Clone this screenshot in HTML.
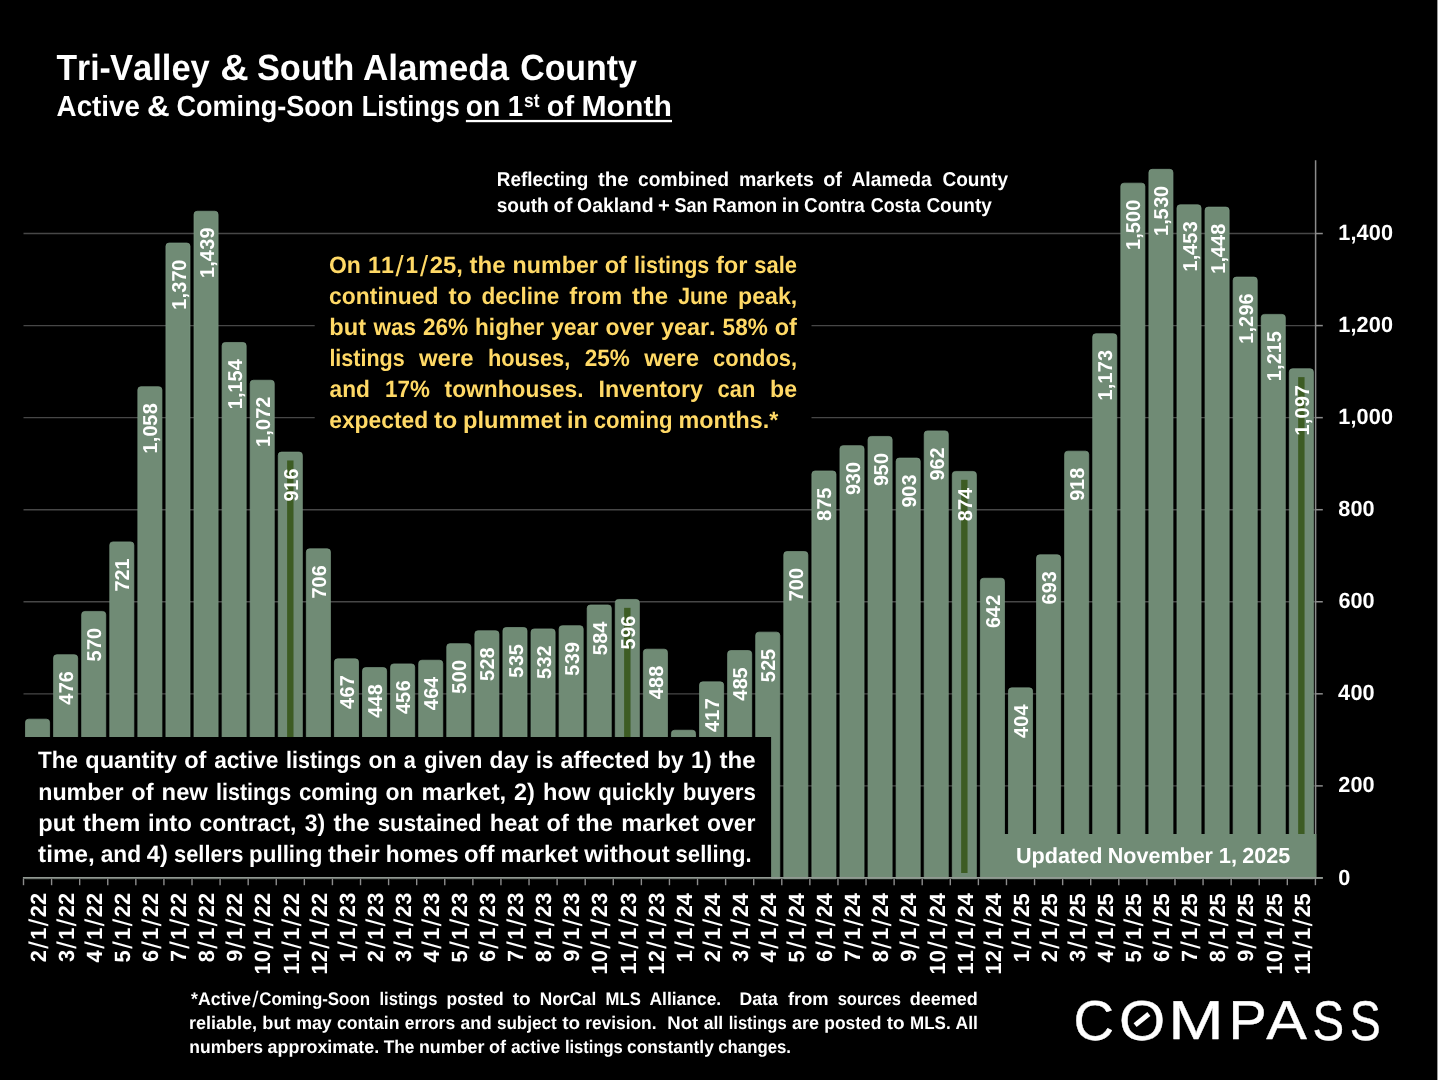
<!DOCTYPE html>
<html lang="en">
<head>
<meta charset="utf-8">
<title>Tri-Valley &amp; South Alameda County - Active &amp; Coming-Soon Listings on 1st of Month</title>
<style>
html,body{margin:0;padding:0;background:#000;overflow:hidden}
svg{display:block}
.s{font-size:27px;font-weight:normal}
text{font-family:"Liberation Sans",sans-serif;font-weight:bold;fill:#fff;white-space:pre;font-variant-ligatures:none;font-kerning:none;text-rendering:geometricPrecision}
</style>
</head>
<body>
<svg width="1440" height="1080" viewBox="0 0 1440 1080">
<rect width="1440" height="1080" fill="#000"/>
<g stroke="#474747" stroke-width="1.4">
<line x1="23.5" y1="785.89" x2="1315.4" y2="785.89"/>
<line x1="23.5" y1="693.83" x2="1315.4" y2="693.83"/>
<line x1="23.5" y1="601.77" x2="1315.4" y2="601.77"/>
<line x1="23.5" y1="509.71" x2="1315.4" y2="509.71"/>
<line x1="23.5" y1="417.65" x2="1315.4" y2="417.65"/>
<line x1="23.5" y1="325.59" x2="1315.4" y2="325.59"/>
<line x1="23.5" y1="233.53" x2="1315.4" y2="233.53"/>
</g>
<g fill="#708b75" stroke="#7b9882" stroke-width="0.7">
<path d="M25.49 878.8V722.37Q25.49 719.17 28.69 719.17H46.39Q49.59 719.17 49.59 722.37V878.8Z"/>
<path d="M53.58 878.8V657.90Q53.58 654.70 56.78 654.70H74.48Q77.68 654.70 77.68 657.90V878.8Z"/>
<path d="M81.66 878.8V614.62Q81.66 611.41 84.86 611.41H102.56Q105.76 611.41 105.76 614.62V878.8Z"/>
<path d="M109.75 878.8V545.08Q109.75 541.88 112.95 541.88H130.65Q133.85 541.88 133.85 545.08V878.8Z"/>
<path d="M137.83 878.8V389.89Q137.83 386.69 141.03 386.69H158.73Q161.93 386.69 161.93 389.89V878.8Z"/>
<path d="M165.92 878.8V246.22Q165.92 243.02 169.12 243.02H186.82Q190.02 243.02 190.02 246.22V878.8Z"/>
<path d="M194.00 878.8V214.44Q194.00 211.24 197.20 211.24H214.90Q218.10 211.24 218.10 214.44V878.8Z"/>
<path d="M222.09 878.8V345.68Q222.09 342.48 225.29 342.48H242.99Q246.19 342.48 246.19 345.68V878.8Z"/>
<path d="M250.17 878.8V383.44Q250.17 380.24 253.37 380.24H271.07Q274.27 380.24 274.27 383.44V878.8Z"/>
<path d="M278.26 878.8V455.28Q278.26 452.08 281.46 452.08H299.16Q302.36 452.08 302.36 455.28V878.8Z"/>
<path d="M306.34 878.8V551.99Q306.34 548.79 309.54 548.79H327.24Q330.44 548.79 330.44 551.99V878.8Z"/>
<path d="M334.43 878.8V662.05Q334.43 658.85 337.62 658.85H355.33Q358.53 658.85 358.53 662.05V878.8Z"/>
<path d="M362.51 878.8V670.80Q362.51 667.60 365.71 667.60H383.41Q386.61 667.60 386.61 670.80V878.8Z"/>
<path d="M390.59 878.8V667.11Q390.59 663.91 393.79 663.91H411.49Q414.69 663.91 414.69 667.11V878.8Z"/>
<path d="M418.68 878.8V663.43Q418.68 660.23 421.88 660.23H439.58Q442.78 660.23 442.78 663.43V878.8Z"/>
<path d="M446.76 878.8V646.85Q446.76 643.65 449.96 643.65H467.66Q470.86 643.65 470.86 646.85V878.8Z"/>
<path d="M474.85 878.8V633.96Q474.85 630.76 478.05 630.76H495.75Q498.95 630.76 498.95 633.96V878.8Z"/>
<path d="M502.93 878.8V630.73Q502.93 627.53 506.13 627.53H523.83Q527.03 627.53 527.03 630.73V878.8Z"/>
<path d="M531.02 878.8V632.11Q531.02 628.91 534.22 628.91H551.92Q555.12 628.91 555.12 632.11V878.8Z"/>
<path d="M559.10 878.8V628.89Q559.10 625.69 562.30 625.69H580.00Q583.20 625.69 583.20 628.89V878.8Z"/>
<path d="M587.19 878.8V608.17Q587.19 604.97 590.39 604.97H608.09Q611.29 604.97 611.29 608.17V878.8Z"/>
<path d="M615.27 878.8V602.64Q615.27 599.44 618.47 599.44H636.17Q639.37 599.44 639.37 602.64V878.8Z"/>
<path d="M643.36 878.8V652.38Q643.36 649.18 646.56 649.18H664.26Q667.46 649.18 667.46 652.38V878.8Z"/>
<path d="M671.44 878.8V733.42Q671.44 730.22 674.64 730.22H692.34Q695.54 730.22 695.54 733.42V878.8Z"/>
<path d="M699.53 878.8V685.07Q699.53 681.87 702.73 681.87H720.43Q723.63 681.87 723.63 685.07V878.8Z"/>
<path d="M727.61 878.8V653.76Q727.61 650.56 730.81 650.56H748.51Q751.71 650.56 751.71 653.76V878.8Z"/>
<path d="M755.70 878.8V635.34Q755.70 632.14 758.90 632.14H776.60Q779.80 632.14 779.80 635.34V878.8Z"/>
<path d="M783.78 878.8V554.75Q783.78 551.55 786.98 551.55H804.68Q807.88 551.55 807.88 554.75V878.8Z"/>
<path d="M811.87 878.8V474.16Q811.87 470.96 815.07 470.96H832.77Q835.97 470.96 835.97 474.16V878.8Z"/>
<path d="M839.95 878.8V448.83Q839.95 445.63 843.15 445.63H860.85Q864.05 445.63 864.05 448.83V878.8Z"/>
<path d="M868.04 878.8V439.62Q868.04 436.43 871.24 436.43H888.94Q892.14 436.43 892.14 439.62V878.8Z"/>
<path d="M896.12 878.8V461.27Q896.12 458.07 899.32 458.07H917.02Q920.22 458.07 920.22 461.27V878.8Z"/>
<path d="M924.21 878.8V434.10Q924.21 430.90 927.41 430.90H945.11Q948.31 430.90 948.31 434.10V878.8Z"/>
<path d="M952.29 878.8V474.62Q952.29 471.42 955.49 471.42H973.19Q976.39 471.42 976.39 474.62V878.8Z"/>
<path d="M980.38 878.8V581.46Q980.38 578.26 983.58 578.26H1001.28Q1004.48 578.26 1004.48 581.46V878.8Z"/>
<path d="M1008.46 878.8V691.06Q1008.46 687.86 1011.66 687.86H1029.36Q1032.56 687.86 1032.56 691.06V878.8Z"/>
<path d="M1036.54 878.8V557.97Q1036.54 554.77 1039.74 554.77H1057.44Q1060.64 554.77 1060.64 557.97V878.8Z"/>
<path d="M1064.63 878.8V454.36Q1064.63 451.16 1067.83 451.16H1085.53Q1088.73 451.16 1088.73 454.36V878.8Z"/>
<path d="M1092.71 878.8V336.93Q1092.71 333.73 1095.91 333.73H1113.61Q1116.81 333.73 1116.81 336.93V878.8Z"/>
<path d="M1120.80 878.8V186.35Q1120.80 183.15 1124.00 183.15H1141.70Q1144.90 183.15 1144.90 186.35V878.8Z"/>
<path d="M1148.88 878.8V172.53Q1148.88 169.33 1152.08 169.33H1169.78Q1172.98 169.33 1172.98 172.53V878.8Z"/>
<path d="M1176.97 878.8V207.99Q1176.97 204.79 1180.17 204.79H1197.87Q1201.07 204.79 1201.07 207.99V878.8Z"/>
<path d="M1205.05 878.8V210.30Q1205.05 207.10 1208.25 207.10H1225.95Q1229.15 207.10 1229.15 210.30V878.8Z"/>
<path d="M1233.14 878.8V280.29Q1233.14 277.09 1236.34 277.09H1254.04Q1257.24 277.09 1257.24 280.29V878.8Z"/>
<path d="M1261.22 878.8V317.59Q1261.22 314.39 1264.42 314.39H1282.12Q1285.32 314.39 1285.32 317.59V878.8Z"/>
<path d="M1289.31 878.8V371.93Q1289.31 368.73 1292.51 368.73H1310.21Q1313.41 368.73 1313.41 371.93V878.8Z"/>
</g>
<g fill="#3d5c23">
<rect x="287.11" y="460.48" width="6.4" height="412.52"/>
<rect x="624.12" y="607.84" width="6.4" height="265.16"/>
<rect x="961.14" y="479.82" width="6.4" height="393.18"/>
<rect x="1298.16" y="377.13" width="6.4" height="495.87"/>
</g>
<g font-size="20.1">
<text transform="translate(73.1 671.2) rotate(-90) scale(0.985 1)" x="-34.1 -22.4 -11.1">476</text>
<text transform="translate(101.2 627.9) rotate(-90) scale(0.985 1)" x="-34.2 -22.4 -11.2">570</text>
<text transform="translate(129.3 558.4) rotate(-90) scale(0.985 1)" x="-33.7 -22.5 -11.3">721</text>
<text transform="translate(157.4 403.2) rotate(-90) scale(0.985 1)" x="-51 -39.6 -33.9 -22.9 -11.3">1,058</text>
<text transform="translate(185.5 259.5) rotate(-90) scale(0.985 1)" x="-51 -39.6 -33.7 -22.4 -11.3">1,370</text>
<text transform="translate(213.6 227.7) rotate(-90) scale(0.985 1)" x="-51 -39.6 -34.1 -22.4 -10.9">1,439</text>
<text transform="translate(241.6 359) rotate(-90) scale(0.985 1)" x="-51 -39.6 -33.9 -22.9 -11.5">1,154</text>
<text transform="translate(269.7 396.7) rotate(-90) scale(0.985 1)" x="-51 -39.6 -33.9 -22.4 -11.2">1,072</text>
<text transform="translate(297.8 468.6) rotate(-90) scale(0.985 1)" x="-33.5 -22.6 -11.1">916</text>
<text transform="translate(325.9 565.3) rotate(-90) scale(0.985 1)" x="-33.7 -22.6 -11.1">706</text>
<text transform="translate(354 675.3) rotate(-90) scale(0.985 1)" x="-34.1 -22.5 -11.1">467</text>
<text transform="translate(382.1 684.1) rotate(-90) scale(0.985 1)" x="-34.1 -22.8 -11.3">448</text>
<text transform="translate(410.1 680.4) rotate(-90) scale(0.985 1)" x="-34.1 -22.9 -11.1">456</text>
<text transform="translate(438.2 676.7) rotate(-90) scale(0.985 1)" x="-34.1 -22.5 -11.4">464</text>
<text transform="translate(466.3 660.1) rotate(-90) scale(0.985 1)" x="-34.2 -22.6 -11.2">500</text>
<text transform="translate(494.4 647.3) rotate(-90) scale(0.985 1)" x="-34.2 -22.5 -11.3">528</text>
<text transform="translate(522.5 644) rotate(-90) scale(0.985 1)" x="-34.2 -22.4 -11.5">535</text>
<text transform="translate(550.6 645.4) rotate(-90) scale(0.985 1)" x="-34.2 -22.4 -11.2">532</text>
<text transform="translate(578.7 642.2) rotate(-90) scale(0.985 1)" x="-34.2 -22.4 -10.9">539</text>
<text transform="translate(606.7 621.5) rotate(-90) scale(0.985 1)" x="-34.2 -22.6 -11.4">584</text>
<text transform="translate(634.8 615.9) rotate(-90) scale(0.985 1)" x="-34.2 -22.2 -11.1">596</text>
<text transform="translate(662.9 665.7) rotate(-90) scale(0.985 1)" x="-34.1 -22.6 -11.3">488</text>
<text transform="translate(719.1 698.4) rotate(-90) scale(0.985 1)" x="-34.1 -22.6 -11.1">417</text>
<text transform="translate(747.2 667.1) rotate(-90) scale(0.985 1)" x="-34.1 -22.6 -11.5">485</text>
<text transform="translate(775.2 648.6) rotate(-90) scale(0.985 1)" x="-34.2 -22.5 -11.5">525</text>
<text transform="translate(803.3 568) rotate(-90) scale(0.985 1)" x="-33.7 -22.6 -11.2">700</text>
<text transform="translate(831.4 487.5) rotate(-90) scale(0.985 1)" x="-33.9 -22.4 -11.5">875</text>
<text transform="translate(859.5 462.1) rotate(-90) scale(0.985 1)" x="-33.5 -22.4 -11.2">930</text>
<text transform="translate(887.6 452.9) rotate(-90) scale(0.985 1)" x="-33.5 -22.9 -11.2">950</text>
<text transform="translate(915.7 474.6) rotate(-90) scale(0.985 1)" x="-33.5 -22.6 -11">903</text>
<text transform="translate(943.8 447.4) rotate(-90) scale(0.985 1)" x="-33.5 -22.5 -11.2">962</text>
<text transform="translate(971.8 487.9) rotate(-90) scale(0.985 1)" x="-33.9 -22.4 -11.4">874</text>
<text transform="translate(999.9 594.8) rotate(-90) scale(0.985 1)" x="-33.8 -22.8 -11.2">642</text>
<text transform="translate(1028 704.4) rotate(-90) scale(0.985 1)" x="-34.1 -22.6 -11.4">404</text>
<text transform="translate(1056.1 571.3) rotate(-90) scale(0.985 1)" x="-33.8 -22.2 -11">693</text>
<text transform="translate(1084.2 467.7) rotate(-90) scale(0.985 1)" x="-33.5 -22.6 -11.3">918</text>
<text transform="translate(1112.3 350.2) rotate(-90) scale(0.985 1)" x="-51 -39.6 -33.9 -22.4 -11">1,173</text>
<text transform="translate(1140.3 199.7) rotate(-90) scale(0.985 1)" x="-51 -39.6 -34.2 -22.6 -11.3">1,500</text>
<text transform="translate(1168.4 185.8) rotate(-90) scale(0.985 1)" x="-51 -39.6 -34.2 -22.4 -11.3">1,530</text>
<text transform="translate(1196.5 221.3) rotate(-90) scale(0.985 1)" x="-51 -39.6 -34.1 -22.9 -11">1,453</text>
<text transform="translate(1224.6 223.6) rotate(-90) scale(0.985 1)" x="-51 -39.6 -34.1 -22.8 -11.3">1,448</text>
<text transform="translate(1252.7 293.6) rotate(-90) scale(0.985 1)" x="-51 -39.6 -33.9 -22.2 -11.2">1,296</text>
<text transform="translate(1280.8 330.9) rotate(-90) scale(0.985 1)" x="-51 -39.6 -33.9 -22.6 -11.6">1,215</text>
<text transform="translate(1308.9 385.2) rotate(-90) scale(0.985 1)" x="-51 -39.6 -33.9 -22.2 -11.1">1,097</text>
</g>
<g stroke="#8c8c8c" stroke-width="1.5" fill="none">
<line x1="1315.6000000000001" y1="160.2" x2="1315.6000000000001" y2="877.95"/>
<line x1="1315.4" y1="877.95" x2="1322.80" y2="877.95"/>
<line x1="1315.4" y1="785.89" x2="1322.80" y2="785.89"/>
<line x1="1315.4" y1="693.83" x2="1322.80" y2="693.83"/>
<line x1="1315.4" y1="601.77" x2="1322.80" y2="601.77"/>
<line x1="1315.4" y1="509.71" x2="1322.80" y2="509.71"/>
<line x1="1315.4" y1="417.65" x2="1322.80" y2="417.65"/>
<line x1="1315.4" y1="325.59" x2="1322.80" y2="325.59"/>
<line x1="1315.4" y1="233.53" x2="1322.80" y2="233.53"/>
</g>
<rect x="21" y="737" width="750.1" height="142.2" fill="#000"/>
<rect x="314.7" y="240" width="496.8" height="205" fill="#000"/>
<rect x="1003" y="834" width="313.3" height="44.9" fill="#708b75"/>
<line x1="22.9" y1="877.95" x2="1322.8000000000002" y2="877.95" stroke="#929a93" stroke-width="1.7"/>
<g stroke="#8c8c8c" stroke-width="1.4" fill="none">
<line x1="23.50" y1="878.75" x2="23.50" y2="885.2"/>
<line x1="51.58" y1="878.75" x2="51.58" y2="885.2"/>
<line x1="79.67" y1="878.75" x2="79.67" y2="885.2"/>
<line x1="107.75" y1="878.75" x2="107.75" y2="885.2"/>
<line x1="135.84" y1="878.75" x2="135.84" y2="885.2"/>
<line x1="163.92" y1="878.75" x2="163.92" y2="885.2"/>
<line x1="192.01" y1="878.75" x2="192.01" y2="885.2"/>
<line x1="220.09" y1="878.75" x2="220.09" y2="885.2"/>
<line x1="248.18" y1="878.75" x2="248.18" y2="885.2"/>
<line x1="276.26" y1="878.75" x2="276.26" y2="885.2"/>
<line x1="304.35" y1="878.75" x2="304.35" y2="885.2"/>
<line x1="332.43" y1="878.75" x2="332.43" y2="885.2"/>
<line x1="360.52" y1="878.75" x2="360.52" y2="885.2"/>
<line x1="388.60" y1="878.75" x2="388.60" y2="885.2"/>
<line x1="416.69" y1="878.75" x2="416.69" y2="885.2"/>
<line x1="444.77" y1="878.75" x2="444.77" y2="885.2"/>
<line x1="472.86" y1="878.75" x2="472.86" y2="885.2"/>
<line x1="500.94" y1="878.75" x2="500.94" y2="885.2"/>
<line x1="529.03" y1="878.75" x2="529.03" y2="885.2"/>
<line x1="557.11" y1="878.75" x2="557.11" y2="885.2"/>
<line x1="585.20" y1="878.75" x2="585.20" y2="885.2"/>
<line x1="613.28" y1="878.75" x2="613.28" y2="885.2"/>
<line x1="641.37" y1="878.75" x2="641.37" y2="885.2"/>
<line x1="669.45" y1="878.75" x2="669.45" y2="885.2"/>
<line x1="697.53" y1="878.75" x2="697.53" y2="885.2"/>
<line x1="725.62" y1="878.75" x2="725.62" y2="885.2"/>
<line x1="753.70" y1="878.75" x2="753.70" y2="885.2"/>
<line x1="781.79" y1="878.75" x2="781.79" y2="885.2"/>
<line x1="809.87" y1="878.75" x2="809.87" y2="885.2"/>
<line x1="837.96" y1="878.75" x2="837.96" y2="885.2"/>
<line x1="866.04" y1="878.75" x2="866.04" y2="885.2"/>
<line x1="894.13" y1="878.75" x2="894.13" y2="885.2"/>
<line x1="922.21" y1="878.75" x2="922.21" y2="885.2"/>
<line x1="950.30" y1="878.75" x2="950.30" y2="885.2"/>
<line x1="978.38" y1="878.75" x2="978.38" y2="885.2"/>
<line x1="1006.47" y1="878.75" x2="1006.47" y2="885.2"/>
<line x1="1034.55" y1="878.75" x2="1034.55" y2="885.2"/>
<line x1="1062.64" y1="878.75" x2="1062.64" y2="885.2"/>
<line x1="1090.72" y1="878.75" x2="1090.72" y2="885.2"/>
<line x1="1118.81" y1="878.75" x2="1118.81" y2="885.2"/>
<line x1="1146.89" y1="878.75" x2="1146.89" y2="885.2"/>
<line x1="1174.98" y1="878.75" x2="1174.98" y2="885.2"/>
<line x1="1203.06" y1="878.75" x2="1203.06" y2="885.2"/>
<line x1="1231.15" y1="878.75" x2="1231.15" y2="885.2"/>
<line x1="1259.23" y1="878.75" x2="1259.23" y2="885.2"/>
<line x1="1287.32" y1="878.75" x2="1287.32" y2="885.2"/>
<line x1="1315.40" y1="878.75" x2="1315.40" y2="885.2"/>
</g>
<rect x="465.9" y="119.9" width="206.1" height="2.3" fill="#fff"/>
<rect x="1437.4" y="0" width="2.6" height="1080" fill="#fff"/>
<text font-size="36.4"><tspan x="56.5" y="80" textLength="54.2" lengthAdjust="spacingAndGlyphs">Tri-</tspan><tspan x="110.1" y="80" textLength="99.7" lengthAdjust="spacingAndGlyphs">Valley</tspan> <tspan x="220.2" y="80" textLength="28.4" lengthAdjust="spacingAndGlyphs">&amp;</tspan> <tspan x="256.9" y="80" textLength="97.5" lengthAdjust="spacingAndGlyphs">South</tspan> <tspan x="362.9" y="80" textLength="146.2" lengthAdjust="spacingAndGlyphs">Alameda</tspan> <tspan x="520.2" y="80" textLength="116.7" lengthAdjust="spacingAndGlyphs">County</tspan></text>
<text font-size="29.1"><tspan x="56.6" y="116" textLength="83.3" lengthAdjust="spacingAndGlyphs">Active</tspan> <tspan x="147.1" y="116" textLength="22.7" lengthAdjust="spacingAndGlyphs">&amp;</tspan> <tspan x="176.5" y="116" textLength="177.3" lengthAdjust="spacingAndGlyphs">Coming-Soon</tspan> <tspan x="361.7" y="116" textLength="98.1" lengthAdjust="spacingAndGlyphs">Listings</tspan> <tspan x="465.8" y="116" textLength="34.6" lengthAdjust="spacingAndGlyphs">on</tspan> <tspan x="507.8" y="116" textLength="15.4" lengthAdjust="spacingAndGlyphs">1</tspan><tspan x="524" y="107" font-size="19.1" textLength="15.4" lengthAdjust="spacingAndGlyphs">st</tspan> <tspan x="546.8" y="116" textLength="27.3" lengthAdjust="spacingAndGlyphs">of</tspan> <tspan x="581.5" y="116" textLength="90.4" lengthAdjust="spacingAndGlyphs">Month</tspan></text>
<text y="186" font-size="20"><tspan x="496.8" textLength="91.4" lengthAdjust="spacingAndGlyphs">Reflecting</tspan> <tspan x="597.9" textLength="30.6" lengthAdjust="spacingAndGlyphs">the</tspan> <tspan x="638.1" textLength="90.9" lengthAdjust="spacingAndGlyphs">combined</tspan> <tspan x="739" textLength="74.8" lengthAdjust="spacingAndGlyphs">markets</tspan> <tspan x="823.2" textLength="18.8" lengthAdjust="spacingAndGlyphs">of</tspan> <tspan x="851.4" textLength="80.4" lengthAdjust="spacingAndGlyphs">Alameda</tspan> <tspan x="942.5" textLength="65.5" lengthAdjust="spacingAndGlyphs">County</tspan></text>
<text y="212" font-size="20"><tspan x="496.7" textLength="52" lengthAdjust="spacingAndGlyphs">south</tspan> <tspan x="553.5" textLength="18.8" lengthAdjust="spacingAndGlyphs">of</tspan> <tspan x="577.1" textLength="76.4" lengthAdjust="spacingAndGlyphs">Oakland</tspan> <tspan x="658.1" textLength="11.8" lengthAdjust="spacingAndGlyphs">+</tspan> <tspan x="674.4" textLength="33.2" lengthAdjust="spacingAndGlyphs">San</tspan> <tspan x="712.5" textLength="64.8" lengthAdjust="spacingAndGlyphs">Ramon</tspan> <tspan x="781.8" textLength="17.7" lengthAdjust="spacingAndGlyphs">in</tspan> <tspan x="804.1" textLength="60.7" lengthAdjust="spacingAndGlyphs">Contra</tspan> <tspan x="870.7" textLength="49.8" lengthAdjust="spacingAndGlyphs">Costa</tspan> <tspan x="926.4" textLength="65.4" lengthAdjust="spacingAndGlyphs">County</tspan></text>
<text y="273" font-size="23.7" style="fill:#ffd966"><tspan x="329" y="273" textLength="31.9" lengthAdjust="spacingAndGlyphs">On</tspan> <tspan x="368" y="273" textLength="25.8" lengthAdjust="spacingAndGlyphs">11</tspan><tspan x="395.6" y="275.6" font-size="29.1" style="font-weight:normal" textLength="8.1" lengthAdjust="spacingAndGlyphs">/</tspan><tspan x="405.6" y="273" textLength="12.5" lengthAdjust="spacingAndGlyphs">1</tspan><tspan x="420" y="275.6" font-size="29.1" style="font-weight:normal" textLength="8.1" lengthAdjust="spacingAndGlyphs">/</tspan><tspan x="429.7" y="273" textLength="33.2" lengthAdjust="spacingAndGlyphs">25,</tspan> <tspan x="469.5" y="273" textLength="36.1" lengthAdjust="spacingAndGlyphs">the</tspan> <tspan x="512.6" y="273" textLength="85.3" lengthAdjust="spacingAndGlyphs">number</tspan> <tspan x="604.7" y="273" textLength="22.2" lengthAdjust="spacingAndGlyphs">of</tspan> <tspan x="634" y="273" textLength="75.3" lengthAdjust="spacingAndGlyphs">listings</tspan> <tspan x="715.9" y="273" textLength="31.6" lengthAdjust="spacingAndGlyphs">for</tspan> <tspan x="754.3" y="273" textLength="42.8" lengthAdjust="spacingAndGlyphs">sale</tspan></text>
<text y="304" font-size="23.7" style="fill:#ffd966"><tspan x="329.1" textLength="109.3" lengthAdjust="spacingAndGlyphs">continued</tspan> <tspan x="448.5" textLength="23.2" lengthAdjust="spacingAndGlyphs">to</tspan> <tspan x="481.5" textLength="77.8" lengthAdjust="spacingAndGlyphs">decline</tspan> <tspan x="569.3" textLength="52.8" lengthAdjust="spacingAndGlyphs">from</tspan> <tspan x="632.1" textLength="36.1" lengthAdjust="spacingAndGlyphs">the</tspan> <tspan x="678.2" textLength="49.7" lengthAdjust="spacingAndGlyphs">June</tspan> <tspan x="738.1" textLength="59.1" lengthAdjust="spacingAndGlyphs">peak,</tspan></text>
<text y="335" font-size="23.7" style="fill:#ffd966"><tspan x="329.3" textLength="36.8" lengthAdjust="spacingAndGlyphs">but</tspan> <tspan x="373.4" textLength="42.7" lengthAdjust="spacingAndGlyphs">was</tspan> <tspan x="422.9" textLength="45.2" lengthAdjust="spacingAndGlyphs">26%</tspan> <tspan x="475.1" textLength="68.9" lengthAdjust="spacingAndGlyphs">higher</tspan> <tspan x="550.9" textLength="47.6" lengthAdjust="spacingAndGlyphs">year</tspan> <tspan x="605.4" textLength="48.7" lengthAdjust="spacingAndGlyphs">over</tspan> <tspan x="661" textLength="54.6" lengthAdjust="spacingAndGlyphs">year.</tspan> <tspan x="722.6" textLength="45.2" lengthAdjust="spacingAndGlyphs">58%</tspan> <tspan x="774.7" textLength="22.2" lengthAdjust="spacingAndGlyphs">of</tspan></text>
<text y="366" font-size="23.7" style="fill:#ffd966"><tspan x="329.4" textLength="75.3" lengthAdjust="spacingAndGlyphs">listings</tspan> <tspan x="418.9" textLength="54.7" lengthAdjust="spacingAndGlyphs">were</tspan> <tspan x="487.9" textLength="82.4" lengthAdjust="spacingAndGlyphs">houses,</tspan> <tspan x="584.7" textLength="45.2" lengthAdjust="spacingAndGlyphs">25%</tspan> <tspan x="644.3" textLength="54.7" lengthAdjust="spacingAndGlyphs">were</tspan> <tspan x="713.1" textLength="84" lengthAdjust="spacingAndGlyphs">condos,</tspan></text>
<text y="397" font-size="23.7" style="fill:#ffd966"><tspan x="329.6" textLength="40.4" lengthAdjust="spacingAndGlyphs">and</tspan> <tspan x="385" textLength="44.9" lengthAdjust="spacingAndGlyphs">17%</tspan> <tspan x="444.6" textLength="139" lengthAdjust="spacingAndGlyphs">townhouses.</tspan> <tspan x="598.5" textLength="104.5" lengthAdjust="spacingAndGlyphs">Inventory</tspan> <tspan x="717.6" textLength="37.8" lengthAdjust="spacingAndGlyphs">can</tspan> <tspan x="770.1" textLength="27" lengthAdjust="spacingAndGlyphs">be</tspan></text>
<text y="428" font-size="23.7" style="fill:#ffd966"><tspan x="329.2" textLength="99" lengthAdjust="spacingAndGlyphs">expected</tspan> <tspan x="434.1" textLength="23.2" lengthAdjust="spacingAndGlyphs">to</tspan> <tspan x="463" textLength="98.6" lengthAdjust="spacingAndGlyphs">plummet</tspan> <tspan x="567.1" textLength="20.9" lengthAdjust="spacingAndGlyphs">in</tspan> <tspan x="593.7" textLength="78.9" lengthAdjust="spacingAndGlyphs">coming</tspan> <tspan x="678.5" textLength="99.8" lengthAdjust="spacingAndGlyphs">months.*</tspan></text>
<text y="768" font-size="23.7"><tspan x="38.1" textLength="39.9" lengthAdjust="spacingAndGlyphs">The</tspan> <tspan x="85.3" textLength="91.6" lengthAdjust="spacingAndGlyphs">quantity</tspan> <tspan x="184.2" textLength="22.2" lengthAdjust="spacingAndGlyphs">of</tspan> <tspan x="214.2" textLength="64.2" lengthAdjust="spacingAndGlyphs">active</tspan> <tspan x="286" textLength="75.3" lengthAdjust="spacingAndGlyphs">listings</tspan> <tspan x="368.4" textLength="28.1" lengthAdjust="spacingAndGlyphs">on</tspan> <tspan x="403.7" textLength="12.1" lengthAdjust="spacingAndGlyphs">a</tspan> <tspan x="424.1" textLength="58.2" lengthAdjust="spacingAndGlyphs">given</tspan> <tspan x="489.5" textLength="39.2" lengthAdjust="spacingAndGlyphs">day</tspan> <tspan x="535.9" textLength="17.3" lengthAdjust="spacingAndGlyphs">is</tspan> <tspan x="560.6" textLength="89" lengthAdjust="spacingAndGlyphs">affected</tspan> <tspan x="657.2" textLength="26.2" lengthAdjust="spacingAndGlyphs">by</tspan> <tspan x="691.1" textLength="20.6" lengthAdjust="spacingAndGlyphs">1)</tspan> <tspan x="719.5" textLength="36.1" lengthAdjust="spacingAndGlyphs">the</tspan></text>
<text y="800" font-size="23.7"><tspan x="38.2" textLength="85.3" lengthAdjust="spacingAndGlyphs">number</tspan> <tspan x="131.3" textLength="22.2" lengthAdjust="spacingAndGlyphs">of</tspan> <tspan x="161.6" textLength="46.3" lengthAdjust="spacingAndGlyphs">new</tspan> <tspan x="216" textLength="75.3" lengthAdjust="spacingAndGlyphs">listings</tspan> <tspan x="298.9" textLength="78.9" lengthAdjust="spacingAndGlyphs">coming</tspan> <tspan x="385.5" textLength="28.1" lengthAdjust="spacingAndGlyphs">on</tspan> <tspan x="421.6" textLength="84.6" lengthAdjust="spacingAndGlyphs">market,</tspan> <tspan x="514" textLength="20.8" lengthAdjust="spacingAndGlyphs">2)</tspan> <tspan x="543.1" textLength="47.2" lengthAdjust="spacingAndGlyphs">how</tspan> <tspan x="598.3" textLength="76.4" lengthAdjust="spacingAndGlyphs">quickly</tspan> <tspan x="682.8" textLength="73.1" lengthAdjust="spacingAndGlyphs">buyers</tspan></text>
<text y="831" font-size="23.7"><tspan x="38.2" textLength="36.8" lengthAdjust="spacingAndGlyphs">put</tspan> <tspan x="83.1" textLength="57.3" lengthAdjust="spacingAndGlyphs">them</tspan> <tspan x="147.9" textLength="44" lengthAdjust="spacingAndGlyphs">into</tspan> <tspan x="199.6" textLength="96.8" lengthAdjust="spacingAndGlyphs">contract,</tspan> <tspan x="304.8" textLength="20.4" lengthAdjust="spacingAndGlyphs">3)</tspan> <tspan x="333.6" textLength="36.1" lengthAdjust="spacingAndGlyphs">the</tspan> <tspan x="377.7" textLength="104" lengthAdjust="spacingAndGlyphs">sustained</tspan> <tspan x="489.7" textLength="48.9" lengthAdjust="spacingAndGlyphs">heat</tspan> <tspan x="546.6" textLength="22.2" lengthAdjust="spacingAndGlyphs">of</tspan> <tspan x="576.9" textLength="36.1" lengthAdjust="spacingAndGlyphs">the</tspan> <tspan x="621.2" textLength="77.7" lengthAdjust="spacingAndGlyphs">market</tspan> <tspan x="706.9" textLength="48.7" lengthAdjust="spacingAndGlyphs">over</tspan></text>
<text y="862" font-size="23.7"><tspan x="38.1" textLength="56.6" lengthAdjust="spacingAndGlyphs">time,</tspan> <tspan x="100.7" textLength="40.4" lengthAdjust="spacingAndGlyphs">and</tspan> <tspan x="146.8" textLength="21" lengthAdjust="spacingAndGlyphs">4)</tspan> <tspan x="174" textLength="69.3" lengthAdjust="spacingAndGlyphs">sellers</tspan> <tspan x="249.1" textLength="73.3" lengthAdjust="spacingAndGlyphs">pulling</tspan> <tspan x="328.1" textLength="51.7" lengthAdjust="spacingAndGlyphs">their</tspan> <tspan x="385.8" textLength="72.8" lengthAdjust="spacingAndGlyphs">homes</tspan> <tspan x="464" textLength="30.4" lengthAdjust="spacingAndGlyphs">off</tspan> <tspan x="500.5" textLength="77.6" lengthAdjust="spacingAndGlyphs">market</tspan> <tspan x="584.3" textLength="85.4" lengthAdjust="spacingAndGlyphs">without</tspan> <tspan x="675.6" textLength="76" lengthAdjust="spacingAndGlyphs">selling.</tspan></text>
<text y="1005" font-size="18.2"><tspan x="191" y="1005" textLength="60" lengthAdjust="spacingAndGlyphs">*Active</tspan><tspan x="252.2" y="1007" font-size="22.4" style="font-weight:normal" textLength="6.2" lengthAdjust="spacingAndGlyphs">/</tspan><tspan x="259.3" y="1005" textLength="110.8" lengthAdjust="spacingAndGlyphs">Coming-Soon</tspan> <tspan x="379.5" y="1005" textLength="57.9" lengthAdjust="spacingAndGlyphs">listings</tspan> <tspan x="446.5" y="1005" textLength="57.1" lengthAdjust="spacingAndGlyphs">posted</tspan> <tspan x="512.8" y="1005" textLength="17.9" lengthAdjust="spacingAndGlyphs">to</tspan> <tspan x="539.8" y="1005" textLength="56.4" lengthAdjust="spacingAndGlyphs">NorCal</tspan> <tspan x="605.6" y="1005" textLength="35.2" lengthAdjust="spacingAndGlyphs">MLS</tspan> <tspan x="649.5" y="1005" textLength="71.7" lengthAdjust="spacingAndGlyphs">Alliance.</tspan>  <tspan x="739.6" y="1005" textLength="38.2" lengthAdjust="spacingAndGlyphs">Data</tspan> <tspan x="788" y="1005" textLength="40.6" lengthAdjust="spacingAndGlyphs">from</tspan> <tspan x="837.7" y="1005" textLength="63.2" lengthAdjust="spacingAndGlyphs">sources</tspan> <tspan x="909.8" y="1005" textLength="68" lengthAdjust="spacingAndGlyphs">deemed</tspan></text>
<text y="1029" font-size="18.2"><tspan x="189.1" textLength="68" lengthAdjust="spacingAndGlyphs">reliable,</tspan> <tspan x="262.3" textLength="28.3" lengthAdjust="spacingAndGlyphs">but</tspan> <tspan x="296.2" textLength="35.5" lengthAdjust="spacingAndGlyphs">may</tspan> <tspan x="336.9" textLength="62.5" lengthAdjust="spacingAndGlyphs">contain</tspan> <tspan x="404.7" textLength="50.4" lengthAdjust="spacingAndGlyphs">errors</tspan> <tspan x="460.5" textLength="31.1" lengthAdjust="spacingAndGlyphs">and</tspan> <tspan x="496.9" textLength="59.9" lengthAdjust="spacingAndGlyphs">subject</tspan> <tspan x="562.2" textLength="17.9" lengthAdjust="spacingAndGlyphs">to</tspan> <tspan x="585.2" textLength="71.3" lengthAdjust="spacingAndGlyphs">revision.</tspan>  <tspan x="667.3" textLength="30.9" lengthAdjust="spacingAndGlyphs">Not</tspan> <tspan x="703.7" textLength="19.5" lengthAdjust="spacingAndGlyphs">all</tspan> <tspan x="728.7" textLength="57.9" lengthAdjust="spacingAndGlyphs">listings</tspan> <tspan x="792" textLength="26.9" lengthAdjust="spacingAndGlyphs">are</tspan> <tspan x="824.3" textLength="57.1" lengthAdjust="spacingAndGlyphs">posted</tspan> <tspan x="886.8" textLength="17.9" lengthAdjust="spacingAndGlyphs">to</tspan> <tspan x="910.1" textLength="40.5" lengthAdjust="spacingAndGlyphs">MLS.</tspan> <tspan x="955.6" textLength="22.4" lengthAdjust="spacingAndGlyphs">All</tspan></text>
<text y="1053" font-size="18.2"><tspan x="189.3" textLength="73.8" lengthAdjust="spacingAndGlyphs">numbers</tspan> <tspan x="267.6" textLength="111.6" lengthAdjust="spacingAndGlyphs">approximate.</tspan> <tspan x="383.7" textLength="30.7" lengthAdjust="spacingAndGlyphs">The</tspan> <tspan x="418.9" textLength="65.6" lengthAdjust="spacingAndGlyphs">number</tspan> <tspan x="489" textLength="17.1" lengthAdjust="spacingAndGlyphs">of</tspan> <tspan x="510.9" textLength="49.4" lengthAdjust="spacingAndGlyphs">active</tspan> <tspan x="564.9" textLength="57.9" lengthAdjust="spacingAndGlyphs">listings</tspan> <tspan x="627" textLength="86.8" lengthAdjust="spacingAndGlyphs">constantly</tspan> <tspan x="718.3" textLength="72.7" lengthAdjust="spacingAndGlyphs">changes.</tspan></text>
<text y="863" font-size="21.8"><tspan x="1015.9" textLength="86.5" lengthAdjust="spacingAndGlyphs">Updated</tspan> <tspan x="1107.8" textLength="105.2" lengthAdjust="spacingAndGlyphs">November</tspan> <tspan x="1218.7" textLength="18.3" lengthAdjust="spacingAndGlyphs">1,</tspan> <tspan x="1242.3" textLength="48" lengthAdjust="spacingAndGlyphs">2025</tspan></text>
<g font-size="22">
<text transform="translate(1338.2 884.5) scale(0.985 1)" x="0.1">0</text>
<text transform="translate(1338.2 792.4) scale(0.985 1)" x="0.1 12.4 24.8">200</text>
<text transform="translate(1338.2 700.3) scale(0.985 1)" x="-0.1 12.4 24.8">400</text>
<text transform="translate(1338.2 608.3) scale(0.985 1)" x="0.2 12.4 24.8">600</text>
<text transform="translate(1338.2 516.2) scale(0.985 1)" x="0.1 12.4 24.8">800</text>
<text transform="translate(1338.2 424.2) scale(0.985 1)" x="0 12.5 18.7 31.1 43.4">1,000</text>
<text transform="translate(1338.2 332.1) scale(0.985 1)" x="0 12.5 18.7 31.1 43.4">1,200</text>
<text transform="translate(1338.2 240) scale(0.985 1)" x="0 12.5 18.5 31.1 43.4">1,400</text>
</g>
<g font-size="22">
<text transform="translate(45.7 893) rotate(-90) scale(0.985 1)" x="-70.2 -56.5 -47.5 -33.7 -24.6 -12.2" y="0 2.4 0 2.4 0 0">2<tspan class="s">/</tspan>1<tspan class="s">/</tspan>22</text>
<text transform="translate(73.8 893) rotate(-90) scale(0.985 1)" x="-70 -56.5 -47.5 -33.7 -24.6 -12.2" y="0 2.4 0 2.4 0 0">3<tspan class="s">/</tspan>1<tspan class="s">/</tspan>22</text>
<text transform="translate(101.9 893) rotate(-90) scale(0.985 1)" x="-70.5 -56.5 -47.5 -33.7 -24.6 -12.2" y="0 2.4 0 2.4 0 0">4<tspan class="s">/</tspan>1<tspan class="s">/</tspan>22</text>
<text transform="translate(130 893) rotate(-90) scale(0.985 1)" x="-70.6 -56.5 -47.5 -33.7 -24.6 -12.2" y="0 2.4 0 2.4 0 0">5<tspan class="s">/</tspan>1<tspan class="s">/</tspan>22</text>
<text transform="translate(158.1 893) rotate(-90) scale(0.985 1)" x="-70.1 -56.5 -47.5 -33.7 -24.6 -12.2" y="0 2.4 0 2.4 0 0">6<tspan class="s">/</tspan>1<tspan class="s">/</tspan>22</text>
<text transform="translate(186.2 893) rotate(-90) scale(0.985 1)" x="-70.1 -56.5 -47.5 -33.7 -24.6 -12.2" y="0 2.4 0 2.4 0 0">7<tspan class="s">/</tspan>1<tspan class="s">/</tspan>22</text>
<text transform="translate(214.3 893) rotate(-90) scale(0.985 1)" x="-70.3 -56.5 -47.5 -33.7 -24.6 -12.2" y="0 2.4 0 2.4 0 0">8<tspan class="s">/</tspan>1<tspan class="s">/</tspan>22</text>
<text transform="translate(242.3 893) rotate(-90) scale(0.985 1)" x="-69.8 -56.5 -47.5 -33.7 -24.6 -12.2" y="0 2.4 0 2.4 0 0">9<tspan class="s">/</tspan>1<tspan class="s">/</tspan>22</text>
<text transform="translate(270.4 893) rotate(-90) scale(0.985 1)" x="-82.7 -70.3 -56.5 -47.5 -33.7 -24.6 -12.2" y="0 0 2.4 0 2.4 0 0">10<tspan class="s">/</tspan>1<tspan class="s">/</tspan>22</text>
<text transform="translate(298.5 893) rotate(-90) scale(0.985 1)" x="-82.7 -70.3 -56.5 -47.5 -33.7 -24.6 -12.2" y="0 0 2.4 0 2.4 0 0">11<tspan class="s">/</tspan>1<tspan class="s">/</tspan>22</text>
<text transform="translate(326.6 893) rotate(-90) scale(0.985 1)" x="-82.7 -70.2 -56.5 -47.5 -33.7 -24.6 -12.2" y="0 0 2.4 0 2.4 0 0">12<tspan class="s">/</tspan>1<tspan class="s">/</tspan>22</text>
<text transform="translate(354.7 893) rotate(-90) scale(0.985 1)" x="-70.3 -56.5 -47.5 -33.7 -24.6 -12" y="0 2.4 0 2.4 0 0">1<tspan class="s">/</tspan>1<tspan class="s">/</tspan>23</text>
<text transform="translate(382.8 893) rotate(-90) scale(0.985 1)" x="-70.2 -56.5 -47.5 -33.7 -24.6 -12" y="0 2.4 0 2.4 0 0">2<tspan class="s">/</tspan>1<tspan class="s">/</tspan>23</text>
<text transform="translate(410.8 893) rotate(-90) scale(0.985 1)" x="-70 -56.5 -47.5 -33.7 -24.6 -12" y="0 2.4 0 2.4 0 0">3<tspan class="s">/</tspan>1<tspan class="s">/</tspan>23</text>
<text transform="translate(438.9 893) rotate(-90) scale(0.985 1)" x="-70.5 -56.5 -47.5 -33.7 -24.6 -12" y="0 2.4 0 2.4 0 0">4<tspan class="s">/</tspan>1<tspan class="s">/</tspan>23</text>
<text transform="translate(467 893) rotate(-90) scale(0.985 1)" x="-70.6 -56.5 -47.5 -33.7 -24.6 -12" y="0 2.4 0 2.4 0 0">5<tspan class="s">/</tspan>1<tspan class="s">/</tspan>23</text>
<text transform="translate(495.1 893) rotate(-90) scale(0.985 1)" x="-70.1 -56.5 -47.5 -33.7 -24.6 -12" y="0 2.4 0 2.4 0 0">6<tspan class="s">/</tspan>1<tspan class="s">/</tspan>23</text>
<text transform="translate(523.2 893) rotate(-90) scale(0.985 1)" x="-70.1 -56.5 -47.5 -33.7 -24.6 -12" y="0 2.4 0 2.4 0 0">7<tspan class="s">/</tspan>1<tspan class="s">/</tspan>23</text>
<text transform="translate(551.3 893) rotate(-90) scale(0.985 1)" x="-70.3 -56.5 -47.5 -33.7 -24.6 -12" y="0 2.4 0 2.4 0 0">8<tspan class="s">/</tspan>1<tspan class="s">/</tspan>23</text>
<text transform="translate(579.4 893) rotate(-90) scale(0.985 1)" x="-69.8 -56.5 -47.5 -33.7 -24.6 -12" y="0 2.4 0 2.4 0 0">9<tspan class="s">/</tspan>1<tspan class="s">/</tspan>23</text>
<text transform="translate(607.4 893) rotate(-90) scale(0.985 1)" x="-82.7 -70.3 -56.5 -47.5 -33.7 -24.6 -12" y="0 0 2.4 0 2.4 0 0">10<tspan class="s">/</tspan>1<tspan class="s">/</tspan>23</text>
<text transform="translate(635.5 893) rotate(-90) scale(0.985 1)" x="-82.7 -70.3 -56.5 -47.5 -33.7 -24.6 -12" y="0 0 2.4 0 2.4 0 0">11<tspan class="s">/</tspan>1<tspan class="s">/</tspan>23</text>
<text transform="translate(663.6 893) rotate(-90) scale(0.985 1)" x="-82.7 -70.2 -56.5 -47.5 -33.7 -24.6 -12" y="0 0 2.4 0 2.4 0 0">12<tspan class="s">/</tspan>1<tspan class="s">/</tspan>23</text>
<text transform="translate(691.7 893) rotate(-90) scale(0.985 1)" x="-70.3 -56.5 -47.5 -33.7 -24.6 -12.5" y="0 2.4 0 2.4 0 0">1<tspan class="s">/</tspan>1<tspan class="s">/</tspan>24</text>
<text transform="translate(719.8 893) rotate(-90) scale(0.985 1)" x="-70.2 -56.5 -47.5 -33.7 -24.6 -12.5" y="0 2.4 0 2.4 0 0">2<tspan class="s">/</tspan>1<tspan class="s">/</tspan>24</text>
<text transform="translate(747.9 893) rotate(-90) scale(0.985 1)" x="-70 -56.5 -47.5 -33.7 -24.6 -12.5" y="0 2.4 0 2.4 0 0">3<tspan class="s">/</tspan>1<tspan class="s">/</tspan>24</text>
<text transform="translate(775.9 893) rotate(-90) scale(0.985 1)" x="-70.5 -56.5 -47.5 -33.7 -24.6 -12.5" y="0 2.4 0 2.4 0 0">4<tspan class="s">/</tspan>1<tspan class="s">/</tspan>24</text>
<text transform="translate(804 893) rotate(-90) scale(0.985 1)" x="-70.6 -56.5 -47.5 -33.7 -24.6 -12.5" y="0 2.4 0 2.4 0 0">5<tspan class="s">/</tspan>1<tspan class="s">/</tspan>24</text>
<text transform="translate(832.1 893) rotate(-90) scale(0.985 1)" x="-70.1 -56.5 -47.5 -33.7 -24.6 -12.5" y="0 2.4 0 2.4 0 0">6<tspan class="s">/</tspan>1<tspan class="s">/</tspan>24</text>
<text transform="translate(860.2 893) rotate(-90) scale(0.985 1)" x="-70.1 -56.5 -47.5 -33.7 -24.6 -12.5" y="0 2.4 0 2.4 0 0">7<tspan class="s">/</tspan>1<tspan class="s">/</tspan>24</text>
<text transform="translate(888.3 893) rotate(-90) scale(0.985 1)" x="-70.3 -56.5 -47.5 -33.7 -24.6 -12.5" y="0 2.4 0 2.4 0 0">8<tspan class="s">/</tspan>1<tspan class="s">/</tspan>24</text>
<text transform="translate(916.4 893) rotate(-90) scale(0.985 1)" x="-69.8 -56.5 -47.5 -33.7 -24.6 -12.5" y="0 2.4 0 2.4 0 0">9<tspan class="s">/</tspan>1<tspan class="s">/</tspan>24</text>
<text transform="translate(944.5 893) rotate(-90) scale(0.985 1)" x="-82.7 -70.3 -56.5 -47.5 -33.7 -24.6 -12.5" y="0 0 2.4 0 2.4 0 0">10<tspan class="s">/</tspan>1<tspan class="s">/</tspan>24</text>
<text transform="translate(972.5 893) rotate(-90) scale(0.985 1)" x="-82.7 -70.3 -56.5 -47.5 -33.7 -24.6 -12.5" y="0 0 2.4 0 2.4 0 0">11<tspan class="s">/</tspan>1<tspan class="s">/</tspan>24</text>
<text transform="translate(1000.6 893) rotate(-90) scale(0.985 1)" x="-82.7 -70.2 -56.5 -47.5 -33.7 -24.6 -12.5" y="0 0 2.4 0 2.4 0 0">12<tspan class="s">/</tspan>1<tspan class="s">/</tspan>24</text>
<text transform="translate(1028.7 893) rotate(-90) scale(0.985 1)" x="-70.3 -56.5 -47.5 -33.7 -24.6 -12.6" y="0 2.4 0 2.4 0 0">1<tspan class="s">/</tspan>1<tspan class="s">/</tspan>25</text>
<text transform="translate(1056.8 893) rotate(-90) scale(0.985 1)" x="-70.2 -56.5 -47.5 -33.7 -24.6 -12.6" y="0 2.4 0 2.4 0 0">2<tspan class="s">/</tspan>1<tspan class="s">/</tspan>25</text>
<text transform="translate(1084.9 893) rotate(-90) scale(0.985 1)" x="-70 -56.5 -47.5 -33.7 -24.6 -12.6" y="0 2.4 0 2.4 0 0">3<tspan class="s">/</tspan>1<tspan class="s">/</tspan>25</text>
<text transform="translate(1113 893) rotate(-90) scale(0.985 1)" x="-70.5 -56.5 -47.5 -33.7 -24.6 -12.6" y="0 2.4 0 2.4 0 0">4<tspan class="s">/</tspan>1<tspan class="s">/</tspan>25</text>
<text transform="translate(1141 893) rotate(-90) scale(0.985 1)" x="-70.6 -56.5 -47.5 -33.7 -24.6 -12.6" y="0 2.4 0 2.4 0 0">5<tspan class="s">/</tspan>1<tspan class="s">/</tspan>25</text>
<text transform="translate(1169.1 893) rotate(-90) scale(0.985 1)" x="-70.1 -56.5 -47.5 -33.7 -24.6 -12.6" y="0 2.4 0 2.4 0 0">6<tspan class="s">/</tspan>1<tspan class="s">/</tspan>25</text>
<text transform="translate(1197.2 893) rotate(-90) scale(0.985 1)" x="-70.1 -56.5 -47.5 -33.7 -24.6 -12.6" y="0 2.4 0 2.4 0 0">7<tspan class="s">/</tspan>1<tspan class="s">/</tspan>25</text>
<text transform="translate(1225.3 893) rotate(-90) scale(0.985 1)" x="-70.3 -56.5 -47.5 -33.7 -24.6 -12.6" y="0 2.4 0 2.4 0 0">8<tspan class="s">/</tspan>1<tspan class="s">/</tspan>25</text>
<text transform="translate(1253.4 893) rotate(-90) scale(0.985 1)" x="-69.8 -56.5 -47.5 -33.7 -24.6 -12.6" y="0 2.4 0 2.4 0 0">9<tspan class="s">/</tspan>1<tspan class="s">/</tspan>25</text>
<text transform="translate(1281.5 893) rotate(-90) scale(0.985 1)" x="-82.7 -70.3 -56.5 -47.5 -33.7 -24.6 -12.6" y="0 0 2.4 0 2.4 0 0">10<tspan class="s">/</tspan>1<tspan class="s">/</tspan>25</text>
<text transform="translate(1309.6 893) rotate(-90) scale(0.985 1)" x="-82.7 -70.3 -56.5 -47.5 -33.7 -24.6 -12.6" y="0 0 2.4 0 2.4 0 0">11<tspan class="s">/</tspan>1<tspan class="s">/</tspan>25</text>
</g>
<text stroke="#fff" stroke-width="0.4" stroke-linejoin="round" style="font-weight:normal"><tspan x="1073.55" y="1040" font-size="56.36" textLength="40.60" lengthAdjust="spacingAndGlyphs">C</tspan><tspan x="1119.08" y="1040" font-size="56.36" textLength="46.26" lengthAdjust="spacingAndGlyphs">O</tspan><tspan x="1168.34" y="1039" font-size="54.80" textLength="55.41" lengthAdjust="spacingAndGlyphs">M</tspan><tspan x="1228.50" y="1039" font-size="54.80" textLength="38.22" lengthAdjust="spacingAndGlyphs">P</tspan><tspan x="1266.38" y="1039" font-size="54.80" textLength="40.64" lengthAdjust="spacingAndGlyphs">A</tspan><tspan x="1312.55" y="1040" font-size="55.79" textLength="31.63" lengthAdjust="spacingAndGlyphs">S</tspan><tspan x="1349.69" y="1040" font-size="55.79" textLength="31.05" lengthAdjust="spacingAndGlyphs">S</tspan></text>
<line x1="1135.1" y1="1025.2" x2="1148.9" y2="1014" stroke="#fff" stroke-width="4.9"/>
</svg>
</body>
</html>
